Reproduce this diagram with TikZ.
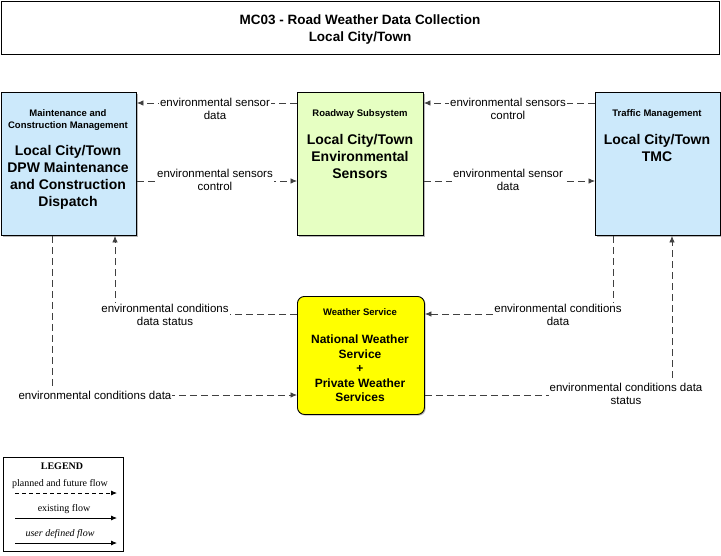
\documentclass[tikz,border=0pt]{standalone}
\usepackage{fontspec}
\setmainfont{Liberation Sans}
\newfontfamily\legendfont{Liberation Serif}
\usetikzlibrary{arrows.meta,shadows}
\definecolor{boxblue}{HTML}{CCE9FB}
\definecolor{boxgreen}{HTML}{E6FFC2}
\definecolor{boxyellow}{HTML}{FFFF00}
\definecolor{flowgray}{HTML}{404040}
\tikzset{
  sysbox/.style={draw=black, line width=0.9pt, anchor=north west, inner sep=0pt,
    drop shadow={shadow xshift=1.2pt, shadow yshift=-1.2pt, fill=gray!70, opacity=0.8}},
  hdr/.style={font=\fontsize{9.5}{11.5}\selectfont\bfseries, align=center, inner sep=0pt},
  big/.style={font=\fontsize{14}{17}\selectfont\bfseries, align=center, inner sep=0pt, anchor=north},
  flow/.style={draw=flowgray, line width=0.8pt, dash pattern=on 7pt off 4pt,
    -{Latex[length=6.5pt,width=5.5pt]}},
  lbl/.style={font=\fontsize{11.5}{13}\selectfont, align=center, fill=white, inner sep=1pt},
  legtxt/.style={font=\legendfont\fontsize{10}{12}\selectfont, inner sep=0pt},
  legarrow/.style={draw=black, line width=0.8pt, -{Latex[length=6pt,width=5pt]}}
}
\begin{document}
\begin{tikzpicture}[x=1pt,y=-1pt]
\useasboundingbox (0,0) rectangle (721,555);
\fill[white] (0,0) rectangle (721,555);

% title
\node[draw=black, line width=0.8pt, anchor=north west, minimum width=718pt, minimum height=53pt, inner sep=0pt] (title) at (1,1) {};
\node[font=\fontsize{13.5}{17}\selectfont\bfseries, align=center, inner sep=0pt] (titletxt) at (360,30) {MC03 - Road Weather Data Collection\\Local City/Town};

% boxes
\node[sysbox, fill=boxblue, minimum width=135pt, minimum height=143pt] (mcm) at (1,92) {};
\node[sysbox, fill=boxgreen, minimum width=126pt, minimum height=143pt] (rs) at (297,92) {};
\node[sysbox, fill=boxblue, minimum width=125pt, minimum height=143pt] (tm) at (595,92) {};
\node[sysbox, fill=boxyellow, rounded corners=7pt, minimum width=127pt, minimum height=118pt] (ws) at (297,296) {};

% box texts
\node[hdr] (mcmh) at (68,120) {Maintenance and\\Construction Management};
\node[big] (mcmt) at (68,145) {Local City/Town\\DPW Maintenance\\and Construction\\Dispatch};
\node[hdr] (rsh) at (360,114) {Roadway Subsystem};
\node[big] (rst) at (360,134) {Local City/Town\\Environmental\\Sensors};
\node[hdr] (tmh) at (657,114) {Traffic Management};
\node[big] (tmt) at (657,134) {Local City/Town\\TMC};
\node[hdr] (wsh) at (360,312) {Weather Service};
\node[font=\fontsize{12}{14.4}\selectfont\bfseries, align=center, inner sep=0pt, anchor=north] (wst) at (360,335) {National Weather\\Service\\+\\Private Weather\\Services};

% top flows
\draw[flow] (rs.west |- 0,103) -- (mcm.east |- 0,103);
\node[lbl, anchor=north] (l1) at (215,96.5) {environmental sensor\\data};
\draw[flow] (mcm.east |- 0,181) -- (rs.west |- 0,181);
\node[lbl, anchor=north] (l2) at (215,167.5) {environmental sensors\\control};
\draw[flow] (tm.west |- 0,103) -- (rs.east |- 0,103);
\node[lbl, anchor=north] (l3) at (508,96.5) {environmental sensors\\control};
\draw[flow] (rs.east |- 0,181) -- (tm.west |- 0,181);
\node[lbl, anchor=north] (l4) at (508,167.5) {environmental sensor\\data};

% weather flows
\coordinate (c5) at (115,314);
\draw[flow] (ws.west |- c5) -- (c5) -- (mcm.south -| c5);
\node[lbl, anchor=north] (l5) at (165,302.5) {environmental conditions\\data status};
\coordinate (c6) at (52,395);
\draw[flow] (mcm.south -| c6) -- (c6) -- (ws.west |- c6);
\node[lbl] (l6) at (95,395.5) {environmental conditions data};
\coordinate (c7) at (613,314);
\draw[flow] (tm.south -| c7) -- (c7) -- (ws.east |- c7);
\node[lbl, anchor=north] (l7) at (558,302.5) {environmental conditions\\data};
\coordinate (c8) at (672,395);
\draw[flow] (ws.east |- c8) -- (c8) -- (tm.south -| c8);
\node[lbl, anchor=north] (l8) at (626,381.5) {environmental conditions data\\status};

% legend
\node[draw=black, line width=0.8pt, anchor=north west, minimum width=120pt, minimum height=94pt, inner sep=0pt] (legend) at (3,457) {};
\node[legtxt, font=\legendfont\fontsize{10}{12}\selectfont\bfseries] (legt) at (62,466) {LEGEND};
\node[legtxt] (leg1) at (60,484) {planned and future flow};
\coordinate (a1s) at (15,493); \coordinate (a1e) at (117,493);
\draw[legarrow, dash pattern=on 4pt off 3pt] (a1s) -- (a1e);
\node[legtxt] (leg2) at (64,509.5) {existing flow};
\coordinate (a2s) at (15,518); \coordinate (a2e) at (117,518);
\draw[legarrow] (a2s) -- (a2e);
\node[legtxt, font=\legendfont\fontsize{10}{12}\selectfont\itshape] (leg3) at (60,534.5) {user defined flow};
\coordinate (a3s) at (15,543); \coordinate (a3e) at (117,543);
\draw[legarrow] (a3s) -- (a3e);
\end{tikzpicture}
\end{document}
